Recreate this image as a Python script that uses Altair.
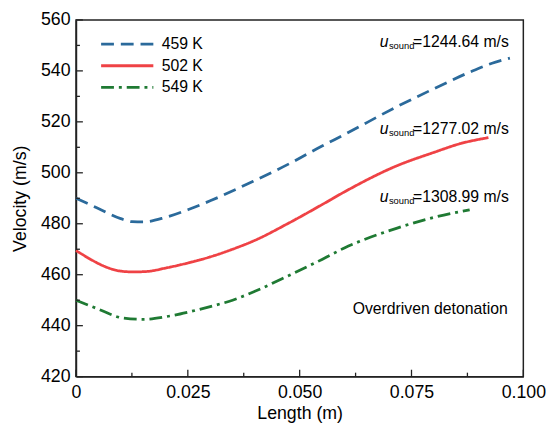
import altair as alt
import pandas as pd

series_names = ["459 K", "502 K", "549 K"]

x_459 = [0, 0.005, 0.01, 0.0125, 0.015, 0.02, 0.025, 0.03, 0.04, 0.0476, 0.055, 0.06, 0.0718, 0.08, 0.088, 0.093, 0.097]
y_459 = [490, 486, 482, 480.8, 480.7, 482.5, 485.5, 489, 497, 503.5, 510.5, 515, 526, 533, 539.5, 543, 545]

x_502 = [0, 0.0105, 0.013, 0.016, 0.02, 0.025, 0.03, 0.035, 0.04, 0.0476, 0.055, 0.06, 0.0718, 0.08, 0.086, 0.0922]
y_502 = [469.5, 461.3, 461.1, 461.3, 462.6, 464.6, 467, 470, 473.5, 480.3, 487.5, 492.5, 502.8, 508, 511.5, 513.8]

x_549 = [0, 0.005, 0.0105, 0.015, 0.02, 0.025, 0.03, 0.035, 0.04, 0.0476, 0.055, 0.06, 0.0718, 0.08, 0.088]
y_549 = [450, 446.5, 443, 442.5, 443.5, 445.3, 447.5, 450, 453.5, 459.7, 466, 470.5, 478.3, 482.5, 485.5]

ann_text = ["=1244.64 m/s", "=1277.02 m/s", "=1308.99 m/s"]
ann_x = [0.0679, 0.0679, 0.0679]
ann_y = [549.4, 515.3, 488.7]

note_text = ["Overdriven detonation"]
note_x = [0.0965]
note_y = [444.6]

x_major = [0, 0.025, 0.05, 0.075, 0.1]
x_minor = [0.0125, 0.0375, 0.0625, 0.0875]
y_major = [420, 440, 460, 480, 500, 520, 540, 560]
y_minor = [430, 450, 470, 490, 510, 530, 550]

colors = ["#2b6a9b", "#ef4245", "#1f7a33"]
dashes = [[13, 7], [1, 0], [13, 5, 3, 5]]

rows = []
for name, xs_, ys_ in zip(series_names, [x_459, x_502, x_549], [y_459, y_502, y_549]):
    for a, b in zip(xs_, ys_):
        rows.append({"series": name, "x": a, "y": b})
df = pd.DataFrame(rows)

ann_df = pd.DataFrame({"text": ann_text, "x": ann_x, "y": ann_y})
note_df = pd.DataFrame({"text": note_text, "x": note_x, "y": note_y})

W, H = 454, 362
FONT = "Liberation Sans"
TICK = "#222"
XT = "Length (m)"
YT = "Velocity (m/s)"

xs = alt.Scale(domain=[0, 0.1], nice=False, zero=False)
ys = alt.Scale(domain=[420, 560], nice=False, zero=False)

leg = alt.Legend(title=None, orient="none", legendX=24, legendY=13,
                 symbolType="M-1,0L4.3,0", symbolSize=400,
                 symbolStrokeWidth=2.8, labelOffset=40,
                 labelFontSize=16, rowPadding=2, padding=0)

lines = alt.Chart(df).mark_line(interpolate="monotone", strokeWidth=2.8).encode(
    x=alt.X("x:Q", scale=xs, title=XT, axis=alt.Axis(
        orient="bottom", values=x_major, ticks=False, labelFlush=False,
        labelExpr="datum.value == 0 ? '0' : format(datum.value, '.3f')",
        grid=False, labelPadding=7, titlePadding=4)),
    y=alt.Y("y:Q", scale=ys, title=YT, axis=alt.Axis(
        orient="left", values=y_major, ticks=False, labelFlush=False,
        grid=False, labelPadding=6, titlePadding=11)),
    color=alt.Color("series:N", scale=alt.Scale(domain=series_names, range=colors), legend=leg),
    strokeDash=alt.StrokeDash("series:N", scale=alt.Scale(domain=series_names, range=dashes), legend=leg),
)

xmaj_df = pd.DataFrame({"v": x_major})
xmin_df = pd.DataFrame({"v": x_minor})
ymaj_df = pd.DataFrame({"v": y_major})
ymin_df = pd.DataFrame({"v": y_minor})

def xticks(d, size):
    return alt.Chart(d).mark_rule(color=TICK, strokeWidth=1.3).encode(
        x=alt.X("v:Q", scale=xs, title=XT),
        y=alt.value(H), y2=alt.value(H - size))

def yticks(d, size):
    return alt.Chart(d).mark_rule(color=TICK, strokeWidth=1.3).encode(
        y=alt.Y("v:Q", scale=ys, title=YT),
        x=alt.value(0), x2=alt.value(size))

ann_base = alt.Chart(ann_df).encode(
    x=alt.X("x:Q", scale=xs, title=XT),
    y=alt.Y("y:Q", scale=ys, title=YT),
    text="text:N",
)
ann_u = ann_base.mark_text(align="left", baseline="alphabetic", fontSize=16,
                           fontStyle="italic", font=FONT, color="black").encode(text=alt.value("u"))
ann_sub = ann_base.mark_text(align="left", baseline="alphabetic", fontSize=9.5, dx=9.3, dy=2,
                             font=FONT, color="black").encode(text=alt.value("sound"))
ann_rest = ann_base.mark_text(align="left", baseline="alphabetic", fontSize=16, dx=33.7,
                              font=FONT, color="black")

note = alt.Chart(note_df).mark_text(align="right", baseline="alphabetic", fontSize=16,
                                    font=FONT, color="black").encode(
    x=alt.X("x:Q", scale=xs, title=XT),
    y=alt.Y("y:Q", scale=ys, title=YT),
    text="text:N",
)

chart = alt.layer(
    lines,
    xticks(xmaj_df, 7), xticks(xmin_df, 4), yticks(ymaj_df, 7), yticks(ymin_df, 4),
    ann_u, ann_sub, ann_rest, note,
).properties(
    width=W, height=H, padding={"left": 3, "top": 0, "right": 0, "bottom": 0},
    background="white",
).configure_view(
    stroke="#222", strokeWidth=1.5
).configure_axis(
    labelFont=FONT, titleFont=FONT, labelFontSize=18, titleFontSize=18,
    titleFontWeight="normal", labelColor="black", titleColor="black",
    domainColor="#222", domainWidth=1.5,
).configure_legend(
    labelFont=FONT, labelColor="black",
)

chart.save("out.html", embed_options={"renderer": "svg", "actions": False})
